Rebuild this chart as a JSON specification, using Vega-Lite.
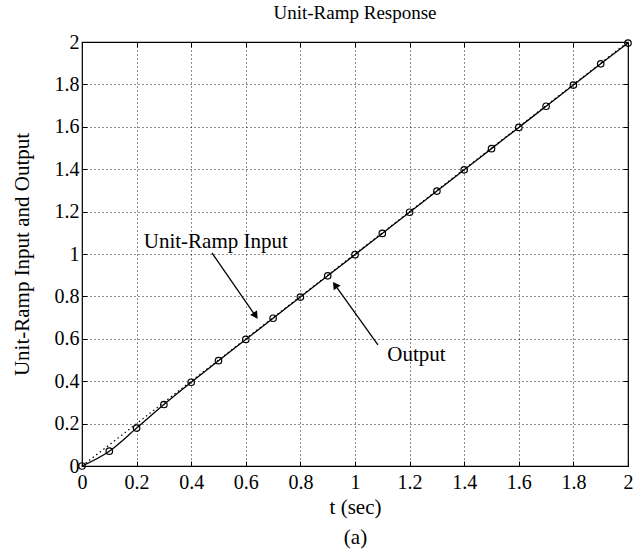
{
  "$schema": "https://vega.github.io/schema/vega-lite/v6.json",
  "autosize": "none",
  "width": 546,
  "height": 424,
  "padding": {"left": 82, "top": 42, "right": 6, "bottom": 85},
  "background": "white",
  "config": {
    "view": {"stroke": "black", "strokeWidth": 1.2},
    "font": "Liberation Serif",
    "axis": {
      "labelFont": "Liberation Serif", "labelFontSize": 20, "labelColor": "black",
      "titleFont": "Liberation Serif", "titleFontSize": 21, "titleFontWeight": "normal", "titleColor": "black",
      "domain": false, "tickColor": "black", "tickSize": -5, "tickWidth": 1,
      "gridColor": "black", "gridDash": [1, 3], "gridOpacity": 0.9, "gridWidth": 1,
      "format": "~g"
    },
    "title": {"font": "Liberation Serif", "fontSize": 19, "fontWeight": "normal", "color": "black"}
  },
  "title": {"text": "Unit-Ramp Response", "offset": 9},
  "datasets": {
    "input": [{"t": 0, "v": 0}, {"t": 2, "v": 2}],
    "output": [
      {"t": 0, "v": 0}, {"t": 0.1, "v": 0.07}, {"t": 0.2, "v": 0.179}, {"t": 0.3, "v": 0.29},
      {"t": 0.4, "v": 0.395}, {"t": 0.5, "v": 0.497}, {"t": 0.6, "v": 0.597}, {"t": 0.7, "v": 0.697},
      {"t": 0.8, "v": 0.797}, {"t": 0.9, "v": 0.897}, {"t": 1.0, "v": 0.997}, {"t": 1.1, "v": 1.097},
      {"t": 1.2, "v": 1.197}, {"t": 1.3, "v": 1.297}, {"t": 1.4, "v": 1.397}, {"t": 1.5, "v": 1.497},
      {"t": 1.6, "v": 1.597}, {"t": 1.7, "v": 1.697}, {"t": 1.8, "v": 1.797}, {"t": 1.9, "v": 1.897},
      {"t": 2.0, "v": 1.995}
    ],
    "arrows": [
      {"t1": 0.476, "v1": 1.005, "t2": 0.638, "v2": 0.703, "ht": 0.636, "hv": 0.709, "ang": 145},
      {"t1": 1.084, "v1": 0.571, "t2": 0.926, "v2": 0.856, "ht": 0.927, "hv": 0.854, "ang": 325}
    ],
    "labels": [
      {"t": 0.49, "v": 1.058, "txt": "Unit-Ramp Input"},
      {"t": 1.225, "v": 0.524, "txt": "Output"}
    ]
  },
  "resolve": {"axis": {"x": "independent", "y": "independent"}},
  "layer": [
    {
      "data": {"name": "input"},
      "mark": {"type": "line", "color": "black", "strokeDash": [1.5, 3], "strokeWidth": 1.2},
      "encoding": {
        "x": {"field": "t", "type": "quantitative", "scale": {"domain": [0, 2], "nice": false},
          "axis": {"orient": "bottom", "values": [0,0.2,0.4,0.6,0.8,1,1.2,1.4,1.6,1.8,2], "grid": true,
            "title": ["t (sec)", "(a)"], "titlePadding": 4, "titleLineHeight": 30, "labelPadding": 11, "labelFlush": false}},
        "y": {"field": "v", "type": "quantitative", "scale": {"domain": [0, 2], "nice": false},
          "axis": {"orient": "left", "values": [0,0.2,0.4,0.6,0.8,1,1.2,1.4,1.6,1.8,2], "grid": true,
            "title": "Unit-Ramp Input and Output", "titlePadding": 22, "labelPadding": 8, "labelFlush": false}}
      }
    },
    {
      "data": {"name": "input"},
      "mark": {"type": "point", "opacity": 0},
      "encoding": {
        "x": {"field": "t", "type": "quantitative",
          "axis": {"orient": "top", "values": [0,0.2,0.4,0.6,0.8,1,1.2,1.4,1.6,1.8,2], "labels": false, "grid": false, "title": null}},
        "y": {"field": "v", "type": "quantitative",
          "axis": {"orient": "right", "values": [0,0.2,0.4,0.6,0.8,1,1.2,1.4,1.6,1.8,2], "labels": false, "grid": false, "title": null}}
      }
    },
    {
      "data": {"name": "output"},
      "mark": {"type": "line", "color": "black", "strokeWidth": 1.3, "interpolate": "monotone"},
      "encoding": {
        "x": {"field": "t", "type": "quantitative", "axis": null},
        "y": {"field": "v", "type": "quantitative", "axis": null}
      }
    },
    {
      "data": {"name": "output"},
      "mark": {"type": "point", "shape": "circle", "filled": false, "color": "black", "size": 42, "strokeWidth": 1.2, "opacity": 1},
      "encoding": {
        "x": {"field": "t", "type": "quantitative", "axis": null},
        "y": {"field": "v", "type": "quantitative", "axis": null}
      }
    },
    {
      "data": {"name": "arrows"},
      "mark": {"type": "rule", "color": "black", "strokeWidth": 1.3},
      "encoding": {
        "x": {"field": "t1", "type": "quantitative", "axis": null},
        "y": {"field": "v1", "type": "quantitative", "axis": null},
        "x2": {"field": "t2"},
        "y2": {"field": "v2"}
      }
    },
    {
      "data": {"name": "arrows"},
      "mark": {"type": "point", "shape": "triangle-up", "filled": true, "color": "black", "size": 70, "opacity": 1},
      "encoding": {
        "x": {"field": "ht", "type": "quantitative", "axis": null},
        "y": {"field": "hv", "type": "quantitative", "axis": null},
        "angle": {"field": "ang", "type": "quantitative", "scale": null}
      }
    },
    {
      "data": {"name": "labels"},
      "mark": {"type": "text", "font": "Liberation Serif", "fontSize": 21, "color": "black", "align": "center", "baseline": "middle"},
      "encoding": {
        "x": {"field": "t", "type": "quantitative", "axis": null},
        "y": {"field": "v", "type": "quantitative", "axis": null},
        "text": {"field": "txt"}
      }
    }
  ]
}
